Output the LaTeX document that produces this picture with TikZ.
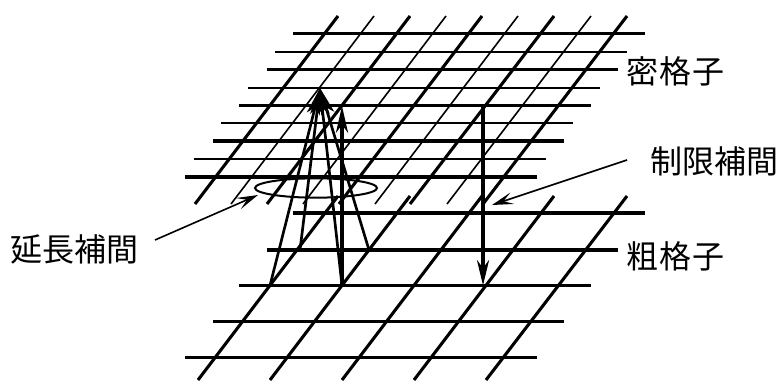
\documentclass[tikz,border=0pt]{standalone}
\usepackage{fontspec}
\usepackage{tikz}
\usetikzlibrary{arrows.meta,shapes.geometric}
\newfontfamily\jpfont{Noto Sans CJK JP}
\tikzset{
  thickgrid/.style={line width=2.3pt},
  thingrid/.style={line width=1.2pt},
  coarsegrid/.style={line width=2.3pt},
  interp/.style={-{Stealth[length=20pt,width=10pt,inset=5pt]}, line width=2pt},
  restrict/.style={-{Stealth[length=19pt,width=9pt,inset=6pt]}, line width=2.8pt},
  leader/.style={-{Stealth[length=16pt,width=9pt,inset=7pt]}, line width=1.2pt},
  ringnode/.style={ellipse, draw, line width=1.5pt, minimum width=91.5pt, minimum height=14.5pt, inner sep=0pt},
  gridlabel/.style={font=\jpfont\fontsize{24}{24}\selectfont, inner sep=0pt}
}
\begin{document}
\begin{tikzpicture}[x=0.75pt,y=-0.75pt]
\useasboundingbox (0,0) rectangle (780,381);

\foreach \yy/\xa/\xb in {33.5/293/645, 69.5/267/618, 105.5/239/591, 141/213/564, 177/185/537}
  \draw[thickgrid] (\xa,\yy) -- (\xb,\yy);
\foreach \yy/\xa/\xb in {52/275/627, 88/248/600, 123/221/573, 159/194/546}
  \draw[thingrid] (\xa,\yy) -- (\xb,\yy);
\foreach \xa/\xb in {338/195, 410/267, 482/339, 554/410, 627/483}
  \draw[thickgrid] (\xa,16) -- (\xb,204);
\foreach \xa/\xb in {374/231, 446/303, 518/375, 591/447}
  \draw[thingrid] (\xa,16) -- (\xb,204);

\foreach \yy/\xa/\xb in {213/293/645, 250/267/618, 285.5/239/591, 321.5/213/564, 357.5/185/537}
  \draw[coarsegrid] (\xa,\yy) -- (\xb,\yy);
\foreach \xa/\xb in {338/198, 410/270, 482/342, 554/414, 627/486}
  \draw[coarsegrid] (\xa,196) -- (\xb,380);

\coordinate (apex) at (320,88);
\coordinate (finemid) at (342,106);
\coordinate (finefar) at (483,106);
\coordinate (coarseA) at (270,285.5);
\coordinate (coarseB) at (342,285.5);
\coordinate (coarseC) at (483,285.5);
\coordinate (midA) at (300,250);
\coordinate (midB) at (369,250);
\coordinate (extfrom) at (155,240);
\coordinate (extto) at (258,195);
\coordinate (resfrom) at (627,160);
\coordinate (resto) at (492,205);

\node[ringnode] (ring) at (316,188) {};

\draw[interp] (coarseA) -- (apex);
\draw[interp] (midA) -- (apex);
\draw[interp] (coarseB) -- (apex);
\draw[interp] (midB) -- (apex);
\draw[restrict, -{Stealth[length=20pt,width=9pt,inset=6pt]}] (coarseB) -- (finemid);
\draw[restrict] (finefar) -- (coarseC);
\draw[leader] (extfrom) -- (extto);
\draw[leader] (resfrom) -- (resto);

\node[gridlabel] (fine) at (675.5,71) {密\hspace{0.8pt}格\hspace{0.8pt}子};
\node[gridlabel] (coarse) at (675.5,256) {粗\hspace{0.8pt}格\hspace{0.8pt}子};
\node[gridlabel] (restriction) at (714.5,161) {制限補間};
\node[gridlabel] (extension) at (74.5,249) {延長補間};
\end{tikzpicture}
\end{document}
